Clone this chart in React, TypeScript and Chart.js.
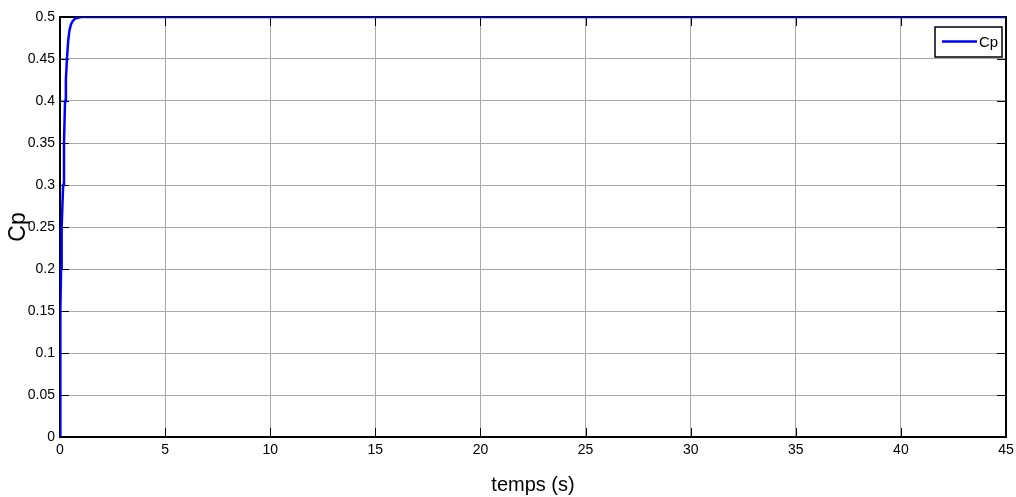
import React, { useEffect, useRef } from "react";
import { Chart, registerables } from "chart.js";

Chart.register(...registerables);

const timeS = [0, 0.005, 0.01, 0.02, 0.03, 0.05, 0.08, 0.12, 0.15, 0.19, 0.24, 0.28, 0.33, 0.39, 0.45, 0.52, 0.6, 0.72, 0.85, 1.0, 1.2, 45];
const cpValues = [0, 0.02, 0.06, 0.11, 0.15, 0.2, 0.25, 0.28, 0.3, 0.35, 0.4, 0.425, 0.45, 0.472, 0.484, 0.491, 0.495, 0.498, 0.499, 0.5, 0.5, 0.5];
const xTicks = [0, 5, 10, 15, 20, 25, 30, 35, 40, 45];
const yTickLabels = ["0", "0.05", "0.1", "0.15", "0.2", "0.25", "0.3", "0.35", "0.4", "0.45", "0.5"];

const FONT = "'Liberation Sans', Arial, sans-serif";

const frameUnder = {
  id: "matlabFrameUnder",
  beforeDatasetsDraw(chart: any) {
    const { ctx, chartArea: a } = chart;
    const xs = chart.scales.x;
    const ys = chart.scales.y;
    ctx.save();
    ctx.strokeStyle = "#000";
    ctx.lineWidth = 1;
    ctx.beginPath();
    xs.ticks.forEach((t: any) => {
      const px = Math.round(xs.getPixelForValue(t.value)) + 0.5;
      ctx.moveTo(px, a.bottom); ctx.lineTo(px, a.bottom - 9);
      ctx.moveTo(px, a.top); ctx.lineTo(px, a.top + 9);
    });
    ys.ticks.forEach((t: any) => {
      const py = Math.round(ys.getPixelForValue(t.value)) + 0.5;
      ctx.moveTo(a.left, py); ctx.lineTo(a.left + 9, py);
      ctx.moveTo(a.right, py); ctx.lineTo(a.right - 9, py);
    });
    ctx.stroke();
    ctx.lineWidth = 2;
    ctx.strokeRect(a.left, a.top, a.right - a.left, a.bottom - a.top);
    ctx.restore();
  },
};

const legendBox = {
  id: "legendBox",
  afterDatasetsDraw(chart: any) {
    const { ctx, chartArea: a } = chart;
    ctx.save();
    const lx = a.right - 71, ly = a.top + 10, lw = 67, lh = 30;
    ctx.fillStyle = "#fff";
    ctx.fillRect(lx, ly, lw, lh);
    ctx.lineWidth = 1.5;
    ctx.strokeStyle = "#000";
    ctx.strokeRect(lx, ly, lw, lh);
    ctx.strokeStyle = "#0000ff";
    ctx.lineWidth = 2.5;
    ctx.beginPath();
    ctx.moveTo(lx + 7, ly + 14.5); ctx.lineTo(lx + 42, ly + 14.5);
    ctx.stroke();
    ctx.fillStyle = "#000";
    ctx.font = `15px ${FONT}`;
    ctx.textBaseline = "middle";
    ctx.textAlign = "left";
    ctx.fillText(chart.data.datasets[0].label, lx + 44, ly + 15.5);
    ctx.restore();
  },
};

export default function App() {
  const ref = useRef<HTMLCanvasElement | null>(null);
  useEffect(() => {
    document.body.style.margin = "0";
    const chart = new Chart(ref.current as HTMLCanvasElement, {
      type: "line",
      data: {
        datasets: [
          {
            label: "Cp",
            data: timeS.map((t, i) => ({ x: t, y: cpValues[i] })),
            borderColor: "#0000ff",
            borderWidth: 2.5,
            pointRadius: 0,
            tension: 0,
            fill: false,
          },
        ],
      },
      options: {
        animation: false,
        responsive: false,
        layout: { padding: { top: 17, right: 10, left: 0, bottom: 0 } },
        plugins: { legend: { display: false }, tooltip: { enabled: false } },
        scales: {
          x: {
            type: "linear",
            min: 0,
            max: 45,
            afterBuildTicks: (s: any) => { s.ticks = xTicks.map((v) => ({ value: v })); },
            afterFit: (s: any) => { s.height = 60; s.paddingRight = 0; s.paddingLeft = 0; },
            ticks: {
              font: { family: FONT, size: 14 },
              color: "#000",
              padding: 5,
              maxRotation: 0,
              callback: (v: any) => String(v),
            },
            grid: { color: "#a8a8a8", lineWidth: 1, drawTicks: false },
            border: { display: false },
            title: {
              display: true,
              text: "temps (s)",
              font: { family: FONT, size: 20 },
              color: "#000",
              padding: { top: 4, bottom: 0 },
            },
          },
          y: {
            type: "linear",
            min: 0,
            max: 0.5,
            afterBuildTicks: (s: any) => { s.ticks = yTickLabels.map((l) => ({ value: parseFloat(l) })); },
            afterFit: (s: any) => { s.width = 60; s.paddingTop = 0; s.paddingBottom = 0; },
            ticks: {
              font: { family: FONT, size: 14 },
              color: "#000",
              padding: 5,
              callback: (v: any) => {
                const idx = yTickLabels.findIndex((l) => Math.abs(parseFloat(l) - v) < 1e-9);
                return idx >= 0 ? yTickLabels[idx] : "";
              },
            },
            grid: { color: "#a8a8a8", lineWidth: 1, drawTicks: false },
            border: { display: false },
            title: {
              display: true,
              text: "Cp",
              font: { family: FONT, size: 23 },
              color: "#000",
              padding: { top: 5, bottom: 0 },
            },
          },
        },
      },
      plugins: [frameUnder, legendBox],
    });
    return () => chart.destroy();
  }, []);
  return <canvas ref={ref} width={1016} height={497} style={{ display: "block" }} />;
}
